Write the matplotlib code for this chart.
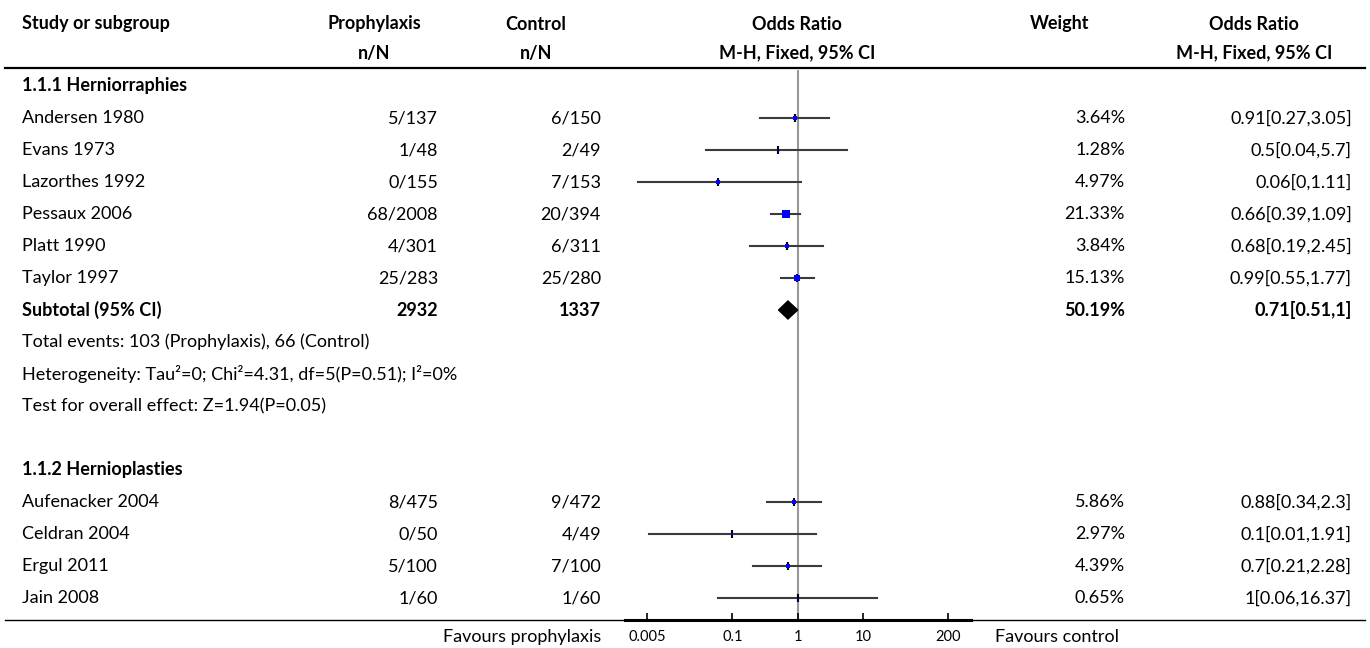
import numpy as np
import matplotlib
matplotlib.use("Agg")
import matplotlib.pyplot as plt

plt.rcParams['font.family'] = ['Lato', 'DejaVu Sans']

# ---- data ----
g1_title = "1.1.1 Herniorraphies"
g1_names = ["Andersen 1980", "Evans 1973", "Lazorthes 1992", "Pessaux 2006", "Platt 1990", "Taylor 1997"]
g1_prop_n = [5, 1, 0, 68, 4, 25]
g1_prop_N = [137, 48, 155, 2008, 301, 283]
g1_ctrl_n = [6, 2, 7, 20, 6, 25]
g1_ctrl_N = [150, 49, 153, 394, 311, 280]
g1_or = [0.91, 0.5, 0.06, 0.66, 0.68, 0.99]
g1_lo = [0.27, 0.04, 0.0036, 0.39, 0.19, 0.55]
g1_hi = [3.05, 5.7, 1.11, 1.09, 2.45, 1.77]
g1_weight = [3.64, 1.28, 4.97, 21.33, 3.84, 15.13]

sub_weight = 50.19
sub_or, sub_lo, sub_hi = 0.71, 0.51, 1.0
sub_notes = ["Heterogeneity: Tau\u00b2=0; Chi\u00b2=4.31, df=5(P=0.51); I\u00b2=0%",
             "Test for overall effect: Z=1.94(P=0.05)"]

g2_title = "1.1.2 Hernioplasties"
g2_names = ["Aufenacker 2004", "Celdran 2004", "Ergul 2011", "Jain 2008"]
g2_prop_n = [8, 0, 5, 1]
g2_prop_N = [475, 50, 100, 60]
g2_ctrl_n = [9, 4, 7, 1]
g2_ctrl_N = [472, 49, 100, 60]
g2_or = [0.88, 0.1, 0.7, 1.0]
g2_lo = [0.34, 0.0054, 0.21, 0.06]
g2_hi = [2.3, 1.91, 2.28, 16.37]
g2_weight = [5.86, 2.97, 4.39, 0.65]

tick_vals = [0.005, 0.1, 1, 10, 200]
tick_labels = ["0.005", "0.1", "1", "10", "200"]


def r2(v):
    return f"{round(v, 2):g}"


def or_text(o, lo, hi):
    return f"{r2(o)}[{r2(lo)},{r2(hi)}]"


# ---- layout (pixels) ----
W, H = 1370, 648
x_name = 22
x_prop, x_prop_h = 438, 374
x_ctrl, x_ctrl_h = 601, 536
x_plot_h = 797
x_wt, x_wt_h = 1125, 1060
x_ort, x_ort_h = 1352, 1254
y_head1, y_head2, y_line = 24, 53, 68
y0, row_h = 86, 32
y_axis = 620
px_left, px_right = 625, 971
fs = 13
fs_small = 10.5

fig = plt.figure(figsize=(W / 100, H / 100), dpi=100)
ax = fig.add_axes([0, 0, 1, 1])
ax.set_xlim(0, W)
ax.set_ylim(H, 0)
ax.axis('off')

fa = fig.add_axes([px_left / W, (H - y_axis) / H, (px_right - px_left) / W, (y_axis - y_line) / H])
fa.set_xscale('log')
fa.set_xlim(10 ** -2.64, 10 ** 2.65)
fa.set_ylim(y_axis, y_line)
fa.patch.set_alpha(0)
for s in ['top', 'left', 'right']:
    fa.spines[s].set_visible(False)
fa.spines['bottom'].set_linewidth(2.2)
fa.set_yticks([])
fa.set_xticks(tick_vals)
fa.set_xticklabels(tick_labels, fontsize=fs_small)
fa.minorticks_off()
fa.tick_params(axis='x', direction='in', length=5, width=1.2, pad=7)

# header
hdr = dict(fontsize=fs, fontweight='bold', va='center')
ax.text(x_name, y_head1, "Study or subgroup", ha='left', **hdr)
ax.text(x_prop_h, y_head1, "Prophylaxis", ha='center', **hdr)
ax.text(x_prop_h, y_head2, "n/N", ha='center', **hdr)
ax.text(x_ctrl_h, y_head1, "Control", ha='center', **hdr)
ax.text(x_ctrl_h, y_head2, "n/N", ha='center', **hdr)
ax.text(x_plot_h, y_head1, "Odds Ratio", ha='center', **hdr)
ax.text(x_plot_h, y_head2, "M-H, Fixed, 95% CI", ha='center', **hdr)
ax.text(x_wt_h, y_head1, "Weight", ha='center', **hdr)
ax.text(x_ort_h, y_head1, "Odds Ratio", ha='center', **hdr)
ax.text(x_ort_h, y_head2, "M-H, Fixed, 95% CI", ha='center', **hdr)
ax.plot([5, W - 5], [y_line, y_line], color='black', lw=1.6)
ax.plot([5, W - 5], [y_axis, y_axis], color='black', lw=1.0)

fa.vlines(1, y_line + 2, y_axis, color='#999999', lw=1.5, zorder=1)


def study_rows(start, names, pn, pN, cn, cN, ors, los, his, wts):
    for i, name in enumerate(names):
        y = y0 + row_h * (start + i)
        ax.text(x_name, y, name, fontsize=fs, va='center', ha='left')
        ax.text(x_prop, y, f"{pn[i]}/{pN[i]}", fontsize=fs, va='center', ha='right')
        ax.text(x_ctrl, y, f"{cn[i]}/{cN[i]}", fontsize=fs, va='center', ha='right')
        ax.text(x_wt, y, f"{wts[i]:.2f}%", fontsize=fs, va='center', ha='right')
        ax.text(x_ort, y, or_text(ors[i], los[i], his[i]), fontsize=fs, va='center', ha='right')
        fa.plot([los[i], his[i]], [y, y], color='#3a3a3a', lw=1.5, zorder=2)
        fa.plot(ors[i], y, marker='|', color='black', ms=6, mew=1.5, zorder=3)
        side = 1.6 * np.sqrt(wts[i]) * 0.72
        fa.plot(ors[i], y, marker='s', color='#0000ff', ms=side, mew=0, zorder=4)


# group 1
ax.text(x_name, y0, g1_title, fontsize=fs, fontweight='bold', va='center')
study_rows(1, g1_names, g1_prop_n, g1_prop_N, g1_ctrl_n, g1_ctrl_N, g1_or, g1_lo, g1_hi, g1_weight)

ys = y0 + row_h * 7
bold = dict(fontsize=fs, fontweight='bold', va='center')
ax.text(x_name, ys, "Subtotal (95% CI)", ha='left', **bold)
ax.text(x_prop, ys, f"{sum(g1_prop_N)}", ha='right', **bold)
ax.text(x_ctrl, ys, f"{sum(g1_ctrl_N)}", ha='right', **bold)
ax.text(x_wt, ys, f"{sub_weight:.2f}%", ha='right', **bold)
ax.text(x_ort, ys, or_text(sub_or, sub_lo, sub_hi), ha='right', **bold)
dh = 9
fa.fill([sub_lo, sub_or, sub_hi, sub_or], [ys, ys - dh, ys, ys + dh], color='black', zorder=5)

notes = [f"Total events: {sum(g1_prop_n)} (Prophylaxis), {sum(g1_ctrl_n)} (Control)"] + sub_notes
for k, line in enumerate(notes):
    ax.text(x_name, y0 + row_h * (8 + k), line, fontsize=fs, va='center', ha='left')

# group 2
ax.text(x_name, y0 + row_h * 12, g2_title, fontsize=fs, fontweight='bold', va='center')
study_rows(13, g2_names, g2_prop_n, g2_prop_N, g2_ctrl_n, g2_ctrl_N, g2_or, g2_lo, g2_hi, g2_weight)

# footer
ax.text(x_ctrl, 637, "Favours prophylaxis", fontsize=fs, va='center', ha='right')
ax.text(995, 637, "Favours control", fontsize=fs, va='center', ha='left')

fig.savefig("out.png", dpi=100)
